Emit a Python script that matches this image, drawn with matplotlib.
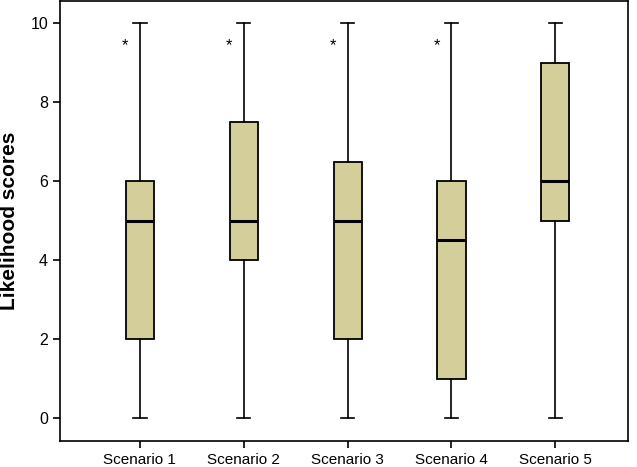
import matplotlib
matplotlib.use("Agg")
import matplotlib.pyplot as plt

plt.rcParams['font.family'] = ['Liberation Sans', 'DejaVu Sans']

scenarios = ["Scenario 1", "Scenario 2", "Scenario 3", "Scenario 4", "Scenario 5"]
whisker_low = [0, 0, 0, 0, 0]
q1 = [2, 4, 2, 1, 5]
medians = [5, 5, 5, 4.5, 6]
q3 = [6, 7.5, 6.5, 6, 9]
whisker_high = [10, 10, 10, 10, 10]
has_star = [True, True, True, True, False]
star_y = 9.45

stats = []
for name, lo, a, m, b, hi in zip(scenarios, whisker_low, q1, medians, q3, whisker_high):
    stats.append({"label": name, "whislo": lo, "q1": a, "med": m, "q3": b,
                  "whishi": hi, "fliers": []})

fig, ax = plt.subplots(figsize=(6.37, 4.67), dpi=100)
fig.subplots_adjust(left=0.094, right=0.986, bottom=0.056, top=0.997)

positions = list(range(1, len(scenarios) + 1))
ax.bxp(stats, positions=positions, widths=0.27, patch_artist=True,
       boxprops=dict(facecolor="#D4CE9B", edgecolor="black", linewidth=1.3),
       medianprops=dict(color="black", linewidth=2.2),
       whiskerprops=dict(color="black", linewidth=1.2),
       capprops=dict(color="black", linewidth=1.2),
       capwidths=0.13, showfliers=False)

for p, s in zip(positions, has_star):
    if s:
        ax.text(p - 0.14, star_y, "*", ha="center", va="center", fontsize=12)

ax.set_xlim(0.23, 5.70)
ax.set_ylim(-0.58, 10.56)
ax.set_yticks([0, 2, 4, 6, 8, 10])
ax.set_xticks(positions)
ax.set_xticklabels(scenarios, fontsize=11)
ax.tick_params(axis="y", labelsize=11.5, direction="out", length=5, width=1.2)
ax.tick_params(axis="x", direction="out", length=5, width=1.2)
for sp in ax.spines.values():
    sp.set_linewidth(1.2)
ax.set_ylabel("Likelihood scores", fontsize=15, fontweight="bold")
ax.yaxis.set_label_coords(-0.072, 0.5)

plt.savefig("out.png", dpi=100)
